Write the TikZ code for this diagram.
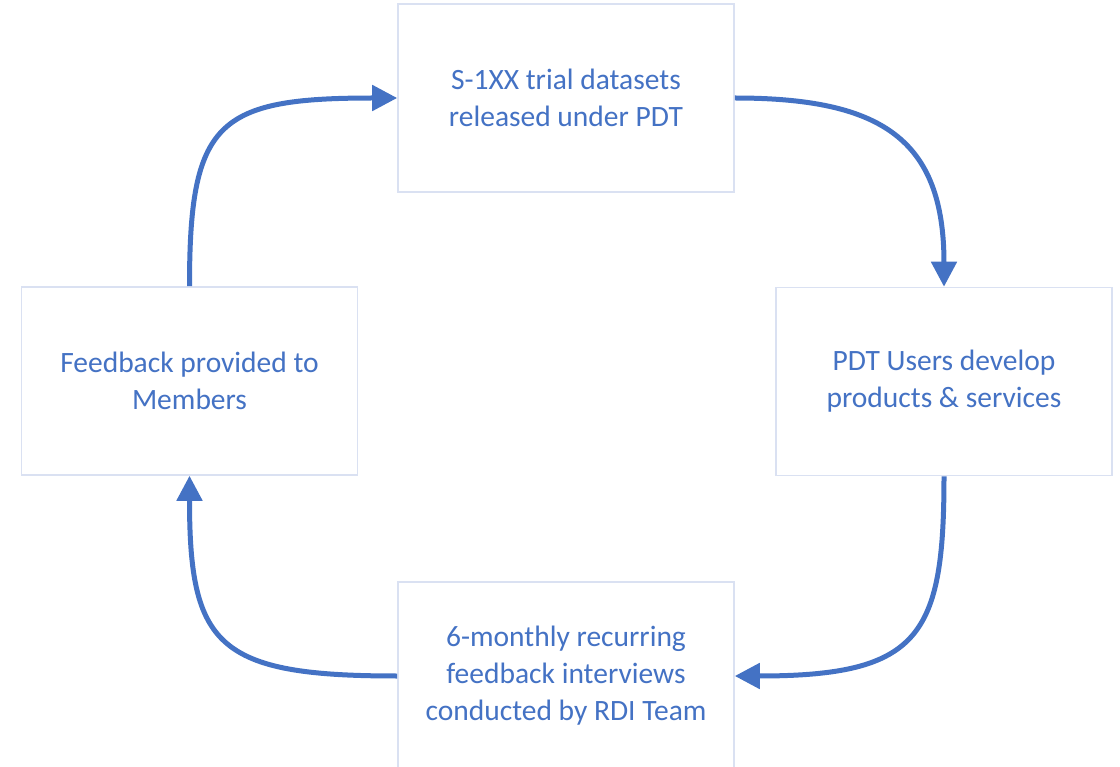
\documentclass[tikz,border=0pt]{standalone}
\usepackage{fontspec}
\setmainfont{Carlito}
\usetikzlibrary{arrows.meta}
\definecolor{flowblue}{RGB}{68,114,196}
\definecolor{boxedge}{RGB}{218,225,242}
\tikzset{
  stagebox/.style={draw=boxedge, line width=1.6pt, fill=white,
    minimum width=336pt, minimum height=188pt, align=center,
    text=flowblue, font=\fontsize{29.5}{37}\selectfont, inner sep=0pt},
  flow/.style={draw=flowblue, line width=5pt,
    -{Triangle[length=25pt,width=25pt]}}
}
\begin{document}
\begin{tikzpicture}[x=1pt,y=-1pt]
  \useasboundingbox (0,0) rectangle (1120,767);
  \fill[white] (0,0) rectangle (1120,767);

  \node[stagebox] (top)    at (566,98)    {S-1XX trial datasets\\released under PDT};
  \node[stagebox] (right)  at (944,381.5) {PDT Users develop\\products \& services};
  \node[stagebox] (bottom) at (566,676)   {6-monthly recurring\\feedback interviews\\conducted by RDI Team};
  \node[stagebox] (left)   at (189.5,381) {Feedback provided to\\Members};

  \draw[flow] (left.north) .. controls +(0,-165) and +(-180,0) .. (top.west);
  \draw[flow] (top.east) .. controls +(146,0) and +(0,-148) .. (right.north);
  \draw[flow] (right.south) .. controls +(0,160) and +(185,0) .. (bottom.east);
  \draw[flow] (bottom.west) .. controls +(-180,0) and +(0,170) .. (left.south);
\end{tikzpicture}
\end{document}
